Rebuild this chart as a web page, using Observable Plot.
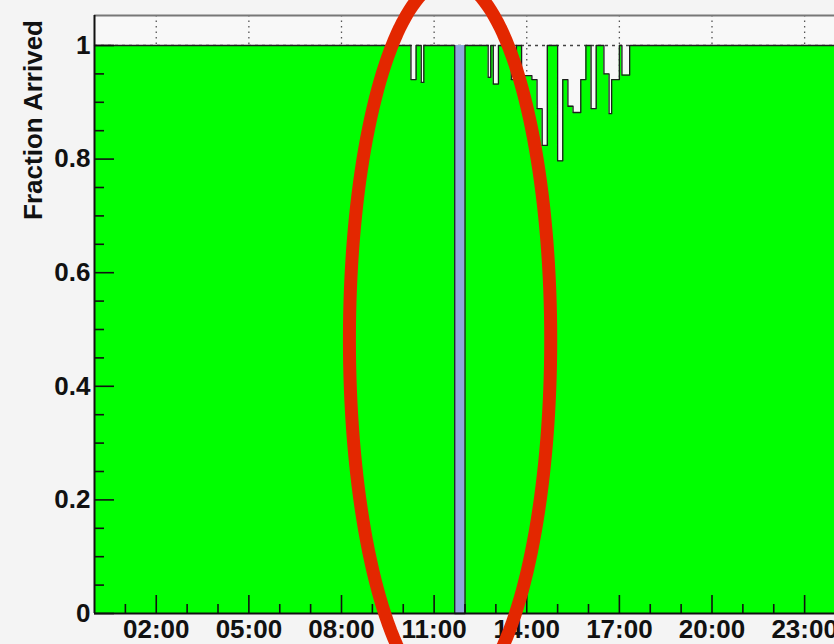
<!DOCTYPE html>
<html>
<head>
<meta charset="utf-8">
<script src="https://cdn.jsdelivr.net/npm/d3@7"></script>
<script src="https://cdn.jsdelivr.net/npm/@observablehq/plot@0.6"></script>
<style>
html, body { margin: 0; padding: 0; background: #f4f4f4; overflow: hidden; }
#chart svg { display: block; overflow: hidden; }
</style>
</head>
<body>
<div id="chart"></div>
<script>
// ---- axis ticks ----
const majorHours = [2, 5, 8, 11, 14, 17, 20, 23];
const minorHours = [1, 3, 4, 6, 7, 9, 10, 12, 13, 15, 16, 18, 19, 21, 22];
const yMajor = [0, 0.2, 0.4, 0.6, 0.8, 1];
const yMinor = [0.05, 0.1, 0.15, 0.25, 0.3, 0.35, 0.45, 0.5, 0.55, 0.65, 0.7, 0.75, 0.85, 0.9, 0.95];
const yTitle = "Fraction Arrived";

// ---- histogram: fraction arrived is 1 except in these intervals ----
const dipStart = ["10:15", "10:35", "12:45", "12:55", "13:30", "13:50", "14:10", "14:20", "14:30",
                  "15:00", "15:10", "15:20", "15:30", "15:45", "16:05", "16:30", "16:40", "16:45", "17:05"];
const dipEnd   = ["10:25", "10:40", "12:50", "13:05", "13:40", "14:10", "14:20", "14:30", "14:40",
                  "15:10", "15:20", "15:30", "15:45", "15:55", "16:15", "16:40", "16:45", "17:00", "17:20"];
const dipValue = [0.94, 0.935, 0.944, 0.932, 0.94, 0.947, 0.94, 0.889, 0.824,
                  0.797, 0.94, 0.893, 0.882, 0.94, 0.889, 0.95, 0.88, 0.94, 0.948];

// no-data interval (blue band)
const noDataStart = "11:40";
const noDataEnd = "12:00";
const noDataValue = 1;

// red annotation ellipse (time, fraction units)
const ringCenter = "11:31";
const ringFraction = 0.482;
const ringHalfHours = 3.26;
const ringHalfFraction = 0.634;

// ---- build ----
const toH = s => { const [h, m] = s.split(":").map(Number); return h + m / 60; };
const breaks = dipStart.map((s, i) => ({x1: toH(s), x2: toH(dipEnd[i]), v: dipValue[i]}));
breaks.push({x1: toH(noDataStart), x2: toH(noDataEnd), v: 0});
breaks.sort((a, b) => a.x1 - b.x1);
const segments = [];
let t = 0;
for (const b of breaks) {
  if (b.x1 > t + 1e-9) segments.push({x1: t, x2: b.x1, v: 1});
  segments.push(b);
  t = b.x2;
}
if (t < 24) segments.push({x1: t, x2: 24, v: 1});
const outline = segments.flatMap(s => [{x: s.x1, v: s.v}, {x: s.x2, v: s.v}]);
const noData = [{x1: toH(noDataStart), x2: toH(noDataEnd), v: noDataValue}];

const cx = toH(ringCenter);
const ring = d3.range(0, 360, 2).map(a => ({
  x: cx + ringHalfHours * Math.cos(a * Math.PI / 180),
  v: ringFraction + ringHalfFraction * Math.sin(a * Math.PI / 180)
}));

const W = 834, H = 644, mL = 94, mT = 15, mB = 31;
const frameH = H - mT - mB, frameW = W - mL;
const yTop = 1.0528;
const font = "'Liberation Sans', Arial, Helvetica, sans-serif";
const fs = 26;
const hh = h => String(h).padStart(2, "0") + ":00";

const plot = Plot.plot({
  width: W, height: H,
  marginLeft: mL, marginRight: 0, marginTop: mT, marginBottom: mB,
  style: {background: "#f4f4f4", fontFamily: font, color: "#111"},
  x: {type: "linear", domain: [0, 24], range: [mL, 835]},
  y: {domain: [0, yTop]},
  marks: [
    Plot.frame({fill: "#f8f8f8"}),
    Plot.ruleX(majorHours, {stroke: "#555", strokeWidth: 1.3, strokeDasharray: "1.5,4"}),
    Plot.ruleY([1], {stroke: "#444", strokeWidth: 1.3, strokeDasharray: "3,4"}),
    Plot.area(outline, {x1: "x", y1: 0, y2: "v", fill: "#00ff00"}),
    Plot.rect(noData, {x1: "x1", x2: "x2", y1: 0, y2: "v", fill: "#8ea8da"}),
    Plot.line(outline, {x: "x", y: "v", stroke: "#1e1e1e", strokeWidth: 1.3}),
    // inward ticks
    Plot.ruleX(majorHours, {insetTop: frameH - 18, stroke: "#111", strokeWidth: 1.6}),
    Plot.ruleX(minorHours, {insetTop: frameH - 9, stroke: "#111", strokeWidth: 1.6}),
    Plot.ruleY(yMajor, {insetRight: frameW - 20, stroke: "#111", strokeWidth: 1.6}),
    Plot.ruleY(yMinor, {insetRight: frameW - 10, stroke: "#111", strokeWidth: 1.6}),
    // frame lines
    Plot.ruleY([0], {stroke: "#111", strokeWidth: 2}),
    Plot.ruleY([yTop], {stroke: "#777", strokeWidth: 2}),
    Plot.ruleX([0], {stroke: "#111", strokeWidth: 2}),
    Plot.axisX({ticks: majorHours, tickSize: 0, tickPadding: 6, tickFormat: hh, label: null,
                fontSize: fs, fontWeight: "bold", fill: "#111"}),
    Plot.axisY({ticks: yMajor, tickSize: 0, tickPadding: 4, tickFormat: d => String(d), label: null,
                fontSize: fs, fontWeight: "bold", fill: "#111"}),
    Plot.line(ring, {x: "x", y: "v", stroke: "#e32700", strokeWidth: 13, curve: "linear-closed"})
  ]
});

d3.select(plot).append("text")
  .attr("transform", `translate(33,${mT + 5}) rotate(-90)`)
  .attr("text-anchor", "end")
  .attr("dy", "0.35em")
  .attr("font-family", font)
  .attr("font-weight", "bold")
  .attr("font-size", fs)
  .attr("fill", "#111")
  .text(yTitle);

document.getElementById("chart").appendChild(plot);
</script>
</body>
</html>
